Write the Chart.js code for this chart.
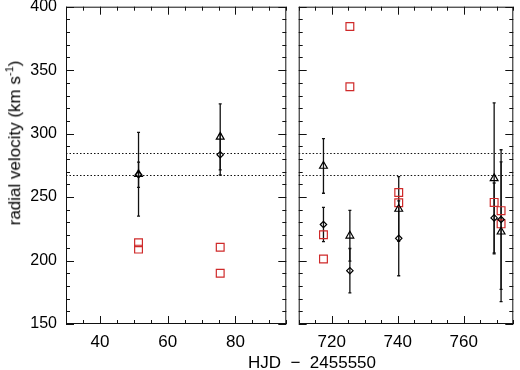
<!DOCTYPE html>
<html>
<head>
<meta charset="utf-8">
<script src="https://cdn.jsdelivr.net/npm/chart.js@4"></script>
<style>
  body { margin: 0; background: #fff; }
  #wrap { position: relative; width: 520px; height: 370px; overflow: hidden; font-family: "Liberation Sans", Helvetica, Arial, sans-serif; color: #000; }
  canvas { position: absolute; top: 0; }
  #cLeft { left: 0; }
  #cRight { left: 292px; }
  .xtitle { position: absolute; left: 312px; top: 353px; transform: translateX(-50%); font-size: 17px; line-height: 20px; white-space: pre; }
  .ytitle { position: absolute; left: 14px; top: 143px; transform: translate(-50%, -50%) rotate(-90deg); font-size: 17px; white-space: nowrap; }
  .ytitle sup { font-size: 11px; }
</style>
</head>
<body>
<div id="wrap">
  <canvas id="cLeft" width="293" height="370"></canvas>
  <canvas id="cRight" width="228" height="370"></canvas>
  <div class="xtitle">HJD  −  2455550</div>
  <div class="ytitle">radial velocity (km s<sup>-1</sup>)</div>
</div>
<script>
// --------------------------
// データ
// --------------------------
const yMin = 150, yMax = 400;
const yTicks = [150, 200, 250, 300, 350, 400];
const refLevels = [285, 267.4];

const leftRange = [30, 95];
const leftTicks = [40, 60, 80];
const rightRange = [710, 775];
const rightTicks = [720, 740, 760];

// 左パネル
const triDatesL = [51.4, 75.5];
const triValsL = [268, 297.4];
const triErrL = [33, 26];
const diaDatesL = [51.4, 75.5];
const diaValsL = [267.6, 283.4];
const diaErrL = [10, 16];
const sqDatesL = [51.4, 51.4, 75.5, 75.5];
const sqValsL = [214, 209, 210.5, 190];

// 右パネル
const triDatesR = [717.5, 725.5, 740.3, 769.2, 771.3];
const triValsR = [274.5, 219.5, 240.6, 264.7, 222.7];
const triErrR = [21.5, 20, 25.5, 59.5, 55];
const diaDatesR = [717.5, 725.5, 740.3, 769.2, 771.3];
const diaValsR = [228.4, 192, 217.5, 233.6, 232.3];
const diaErrR = [13.5, 17.5, 29.5, 27.5, 55];
const sqDatesR = [717.5, 717.5, 725.5, 725.5, 740.3, 740.3, 769.2, 771.3, 771.3];
const sqValsR = [220.3, 201.2, 384.4, 336.9, 253.6, 245.6, 245.8, 239.3, 228.9];

const RED = '#cf2a2a';

Chart.defaults.font.family = '"Liberation Sans", Helvetica, Arial, sans-serif';
Chart.defaults.color = '#000';

function pts(xs, ys){
  return xs.map((x, i) => ({x: x, y: ys[i]}));
}

// 枠・内向き目盛・点線・誤差棒
const framePlugin = {
  id: 'frame',
  beforeDatasetsDraw(chart){
    const ctx = chart.ctx;
    const a = chart.chartArea;
    const x = chart.scales.x, y = chart.scales.y;
    ctx.save();
    ctx.strokeStyle = '#111';
    ctx.lineWidth = 1;
    ctx.setLineDash([1.5, 2]);
    refLevels.forEach(v => {
      const py = Math.round(y.getPixelForValue(v)) + 0.5;
      ctx.beginPath();
      ctx.moveTo(a.left, py);
      ctx.lineTo(a.right, py);
      ctx.stroke();
    });
    ctx.setLineDash([]);
    ctx.lineWidth = 1.3;
    chart.data.datasets.forEach(ds => {
      if(!ds.errors) return;
      ds.data.forEach((p, j) => {
        const px = x.getPixelForValue(p.x);
        const t = y.getPixelForValue(p.y + ds.errors[j]);
        const b = y.getPixelForValue(p.y - ds.errors[j]);
        ctx.beginPath();
        ctx.moveTo(px, t); ctx.lineTo(px, b);
        ctx.moveTo(px - 1.5, t); ctx.lineTo(px + 1.5, t);
        ctx.moveTo(px - 1.5, b); ctx.lineTo(px + 1.5, b);
        ctx.stroke();
      });
    });
    ctx.restore();
  },
  afterDraw(chart){
    const ctx = chart.ctx;
    const a = chart.chartArea;
    const x = chart.scales.x, y = chart.scales.y;
    ctx.save();
    ctx.strokeStyle = '#111';
    ctx.lineWidth = 1;
    ctx.strokeRect(a.left + 0.5, a.top + 0.5, a.right - a.left - 1, a.bottom - a.top - 1);
    ctx.beginPath();
    for(let v = Math.ceil(x.min / 5) * 5; v <= x.max; v += 5){
      const px = Math.round(x.getPixelForValue(v)) + 0.5;
      const len = v % 20 === 0 ? 8 : 4;
      ctx.moveTo(px, a.bottom); ctx.lineTo(px, a.bottom - len);
      ctx.moveTo(px, a.top); ctx.lineTo(px, a.top + len);
    }
    for(let v = yMin; v <= yMax; v += 10){
      const py = Math.round(y.getPixelForValue(v)) + 0.5;
      const len = v % 50 === 0 ? 8 : 4;
      ctx.moveTo(a.left, py); ctx.lineTo(a.left + len, py);
      ctx.moveTo(a.right, py); ctx.lineTo(a.right - len, py);
    }
    ctx.stroke();
    ctx.restore();
  }
};

function makeChart(id, range, ticks, tri, dia, sq, showY, padRight){
  const ctx = document.getElementById(id).getContext('2d');
  return new Chart(ctx, {
    type: 'scatter',
    data: {
      datasets: [
        {
          label: 'triangle',
          data: pts(tri[0], tri[1]),
          errors: tri[2],
          pointStyle: 'triangle',
          pointRadius: 4.5,
          borderColor: '#000',
          backgroundColor: 'rgba(0,0,0,0)',
          borderWidth: 1.2
        },
        {
          label: 'diamond',
          data: pts(dia[0], dia[1]),
          errors: dia[2],
          pointStyle: 'rectRot',
          pointRadius: 3.2,
          borderColor: '#000',
          backgroundColor: 'rgba(0,0,0,0)',
          borderWidth: 1.2
        },
        {
          label: 'square',
          data: pts(sq[0], sq[1]),
          pointStyle: 'rect',
          pointRadius: 5.5,
          borderColor: RED,
          backgroundColor: 'rgba(0,0,0,0)',
          borderWidth: 1.2
        }
      ]
    },
    options: {
      responsive: false,
      animation: false,
      events: [],
      layout: { padding: { top: 3, right: padRight, bottom: 0, left: 0 } },
      plugins: { legend: { display: false }, tooltip: { enabled: false } },
      scales: {
        x: {
          type: 'linear',
          min: range[0],
          max: range[1],
          grid: { display: false, drawTicks: false },
          border: { display: false },
          ticks: { font: { size: 17 }, padding: 8 },
          afterBuildTicks: s => { s.ticks = ticks.map(v => ({value: v})); },
          afterFit: s => { s.height = 46; s.paddingLeft = 0; s.paddingRight = 0; }
        },
        y: {
          type: 'linear',
          min: yMin,
          max: yMax,
          grid: { display: false, drawTicks: false },
          border: { display: false },
          ticks: { display: showY, font: { size: 16 }, padding: 9 },
          afterBuildTicks: s => { s.ticks = yTicks.map(v => ({value: v})); },
          afterFit: s => { s.width = showY ? 66 : 3; s.paddingTop = 0; s.paddingBottom = 0; }
        }
      }
    },
    plugins: [framePlugin]
  });
}

makeChart('cLeft', leftRange, leftTicks,
  [triDatesL, triValsL, triErrL], [diaDatesL, diaValsL, diaErrL], [sqDatesL, sqValsL], true, 3);
makeChart('cRight', rightRange, rightTicks,
  [triDatesR, triValsR, triErrR], [diaDatesR, diaValsR, diaErrR], [sqDatesR, sqValsR], false, 1);
</script>
</body>
</html>
